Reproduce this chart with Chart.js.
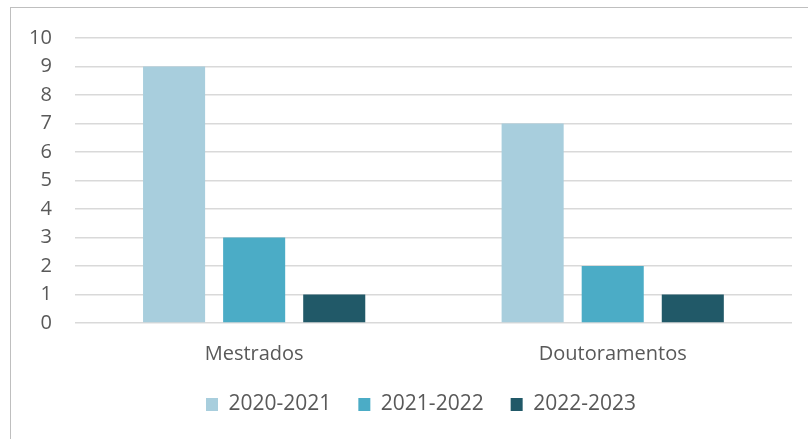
<!DOCTYPE html>
<html>
<head>
<meta charset="utf-8">
<script src="https://cdn.jsdelivr.net/npm/chart.js@4/dist/chart.umd.min.js"></script>
<style>
  html, body { margin: 0; padding: 0; background: #fff; }
  #frame {
    position: absolute; left: 10px; top: 7px; width: 830px; height: 460px;
    border: 1px solid #bfbfbf; box-sizing: border-box;
  }
  #wrap { position: absolute; left: 0; top: 0; width: 808px; height: 439px; }
</style>
</head>
<body>
<div id="frame"></div>
<div id="wrap"><canvas id="myChart"></canvas></div>
<script>
const categories = ["Mestrados", "Doutoramentos"];
const seriesLabels = ["2020-2021", "2021-2022", "2022-2023"];
const values2020 = [9, 7];
const values2021 = [3, 2];
const values2022 = [1, 1];
const seriesColors = ["#a8cedd", "#4bacc6", "#215968"];

// legend is centred on the whole frame, not on the plot area
const legendShift = {
  id: "legendShift",
  afterLayout(chart) {
    chart.legend.left += 22;
    chart.legend.right += 22;
  },
};

const ctx = document.getElementById("myChart");
new Chart(ctx, {
  type: "bar",
  data: {
    labels: categories,
    datasets: [
      { label: seriesLabels[0], data: values2020, backgroundColor: seriesColors[0] },
      { label: seriesLabels[1], data: values2021, backgroundColor: seriesColors[1] },
      { label: seriesLabels[2], data: values2022, backgroundColor: seriesColors[2] },
    ],
  },
  options: {
    responsive: true,
    maintainAspectRatio: false,
    animation: false,
    barPercentage: 0.775,
    categoryPercentage: 0.67,
    layout: {
      padding: { left: 6, right: 16, top: 38, bottom: 14 },
    },
    plugins: {
      legend: {
        position: "bottom",
        labels: {
          boxWidth: 12,
          boxHeight: 13,
          padding: 27,
          color: "#595959",
          font: { family: "Open Sans", size: 21 },
        },
      },
      tooltip: { enabled: false },
    },
    scales: {
      x: {
        grid: { display: false },
        border: { display: false },
        ticks: {
          color: "#595959",
          padding: 11,
          font: { family: "Open Sans", size: 20 },
        },
        // pull the legend a bit closer to the category labels
        afterFit: (scale) => {
          scale.height -= 10;
        },
      },
      y: {
        min: 0,
        max: 10,
        ticks: {
          stepSize: 1,
          color: "#595959",
          padding: 23,
          font: { family: "Open Sans", size: 20 },
        },
        grid: { color: "#d9d9d9", lineWidth: 1.5, drawTicks: false },
        border: { display: false },
      },
    },
  },
  plugins: [legendShift],
});
</script>
</body>
</html>
